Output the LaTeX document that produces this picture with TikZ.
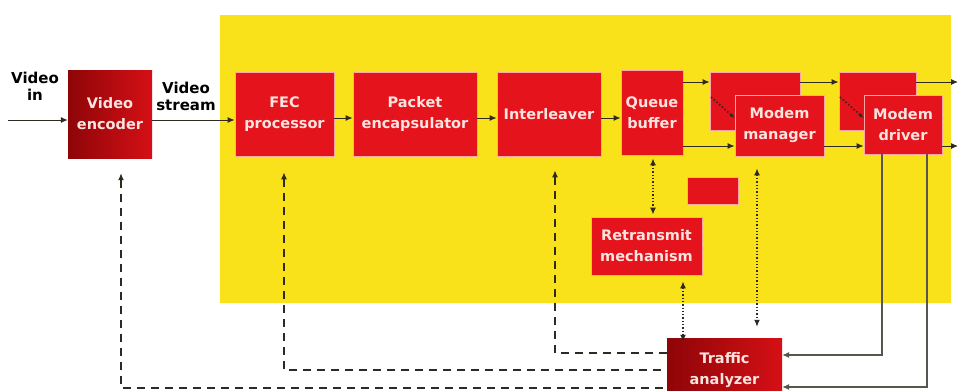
\documentclass[tikz,border=0pt]{standalone}
\usepackage{fontspec}
\setmainfont{DejaVu Sans}
\usetikzlibrary{arrows.meta,calc}
\definecolor{ylw}{HTML}{F9E21A}
\definecolor{boxred}{HTML}{E5131B}
\definecolor{darkr}{HTML}{8E0508}
\definecolor{midr}{HTML}{D51015}
\definecolor{txtw}{HTML}{FBE4E0}
\definecolor{lnk}{HTML}{2E2A22}
\tikzset{
  box/.style={draw=red!35!white, line width=0.8pt, fill=boxred, text=txtw, align=center,
    inner sep=0pt, font=\bfseries\fontsize{14.5}{21}\selectfont},
  darkbox/.style={inner sep=0pt, left color=darkr, right color=midr, text=txtw, align=center,
    font=\bfseries\fontsize{14.5}{21}\selectfont},
  lbl/.style={text=black, align=center, font=\bfseries\fontsize{15}{17}\selectfont},
  tip/.style={-{Latex[length=7pt,width=6pt]}},
  flow/.style={tip, draw=lnk, line width=1pt},
  dots/.style={{Latex[length=7pt,width=6pt]}-{Latex[length=7pt,width=6pt]}, draw=lnk, line width=1.3pt, dotted},
  fbdash/.style={draw=lnk, line width=1.2pt, dash pattern=on 8pt off 6pt},
  dashtip/.style={fbdash, {Latex[length=7pt,width=6pt]}-},
  solidfb/.style={tip, draw=lnk!80!white, line width=1.1pt},
}
\begin{document}
\begin{tikzpicture}[x=1pt,y=-1pt]
\useasboundingbox (0,0) rectangle (959,391);
% yellow zone
\fill[ylw] (220,15) rectangle (951,303);

% boxes
\node[darkbox, minimum width=84pt, minimum height=88pt] (enc) at (110,114) {Video\\encoder};
\node[box, minimum width=99pt, minimum height=84pt] (fec) at (284.5,114) {FEC\\processor};
\node[box, minimum width=124pt, minimum height=84pt] (pack) at (415,114) {Packet\\encapsulator};
\node[box, minimum width=104pt, minimum height=84pt] (inter) at (549,114) {Interleaver};
\node[box, minimum width=62pt, minimum height=85pt] (queue) at (652,112.5) {Queue\\buffer};
\node[box, minimum width=90pt, minimum height=58pt] (mmback) at (755,101) {};
\node[box, minimum width=89pt, minimum height=61pt] (mm) at (779.5,125.5) {Modem\\manager};
\node[box, minimum width=77pt, minimum height=58pt] (mdback) at (877.5,101) {};
\node[box, minimum width=78pt, minimum height=59pt] (md) at (903,124.5) {Modem\\driver};
\node[box, minimum width=51pt, minimum height=27pt] (small) at (712.5,190.5) {};
\node[box, minimum width=111pt, minimum height=58pt] (retx) at (646.5,246) {Retransmit\\mechanism};
\node[darkbox, minimum width=115pt, minimum height=64pt] (traffic) at (724.5,370) {Traffic\\analyzer};

% labels
\node[lbl] (vinlbl) at (35,86) {Video\\in};
\node[lbl] (vslbl) at (186,96) {Video\\stream};

% coordinates
\coordinate (vin) at (8,120);
\coordinate (row) at (0,118);
\coordinate (outend) at (958,0);
\coordinate (ya) at (0,82);
\coordinate (yb) at (0,146);

% main flow
\draw[flow] (vin) -- (enc.west|-vin);
\draw[flow] (enc.east|-vin) -- (fec.west|-vin);
\draw[flow] (fec.east|-row) -- (pack.west|-row);
\draw[flow] (pack.east|-row) -- (inter.west|-row);
\draw[flow] (inter.east|-row) -- (queue.west|-row);
\draw[flow] (queue.east|-ya) -- (mmback.west|-ya);
\draw[flow] (queue.east|-yb) -- (mm.west|-yb);
\draw[flow] (mmback.east|-ya) -- (mdback.west|-ya);
\draw[flow] (mm.east|-yb) -- (md.west|-yb);
\draw[flow] (mdback.east|-ya) -- (outend|-ya);
\draw[flow] (md.east|-yb) -- (outend|-yb);

% small diagonal dotted arrows inside back boxes
\coordinate (d1) at (711,97);
\coordinate (d2) at (840,97);
\draw[line width=1.6pt, draw=lnk, dotted, -{Latex[length=5pt,width=4pt]}] (d1) -- (mm.north west|-0,118);
\draw[line width=1.6pt, draw=lnk, dotted, -{Latex[length=5pt,width=4pt]}] (d2) -- (md.north west|-0,118);

% dotted double arrows
\coordinate (qx) at (653,0);
\draw[dots] ($(queue.south-|qx)+(0,3)$) -- ($(retx.north-|qx)+(0,-2)$);
\coordinate (mx) at (757,0);
\draw[dots] ($(mm.south-|mx)+(0,12)$) -- ($(traffic.north-|mx)+(0,-11)$);
\coordinate (tx) at (683,0);
\draw[dots] ($(retx.south-|tx)+(0,6)$) -- ($(traffic.north-|tx)+(0,4)$);

% dashed feedback
\coordinate (y1) at (0,353);
\coordinate (y2) at (0,370);
\coordinate (y3) at (0,388);
\coordinate (fx) at (284,0);
\draw[dashtip] ($(inter.south)+(6,14)$) -- ($(inter.south|-y1)+(6,0)$) -- (traffic.west|-y1);
\draw[dashtip] ($(fec.south-|fx)+(0,16)$) -- (fx|-y2) -- (traffic.west|-y2);
\draw[dashtip] ($(enc.south)+(11,15)$) -- ($(enc.south|-y3)+(11,0)$) -- (traffic.west|-y3);

% solid feedback from modem driver
\coordinate (s1) at (882,355);
\coordinate (s2) at (927,387);
\draw[solidfb] (md.south-|s1) -- (s1) -- (traffic.east|-s1);
\draw[solidfb] (md.south-|s2) -- (s2) -- (traffic.east|-s2);
\end{tikzpicture}
\end{document}
